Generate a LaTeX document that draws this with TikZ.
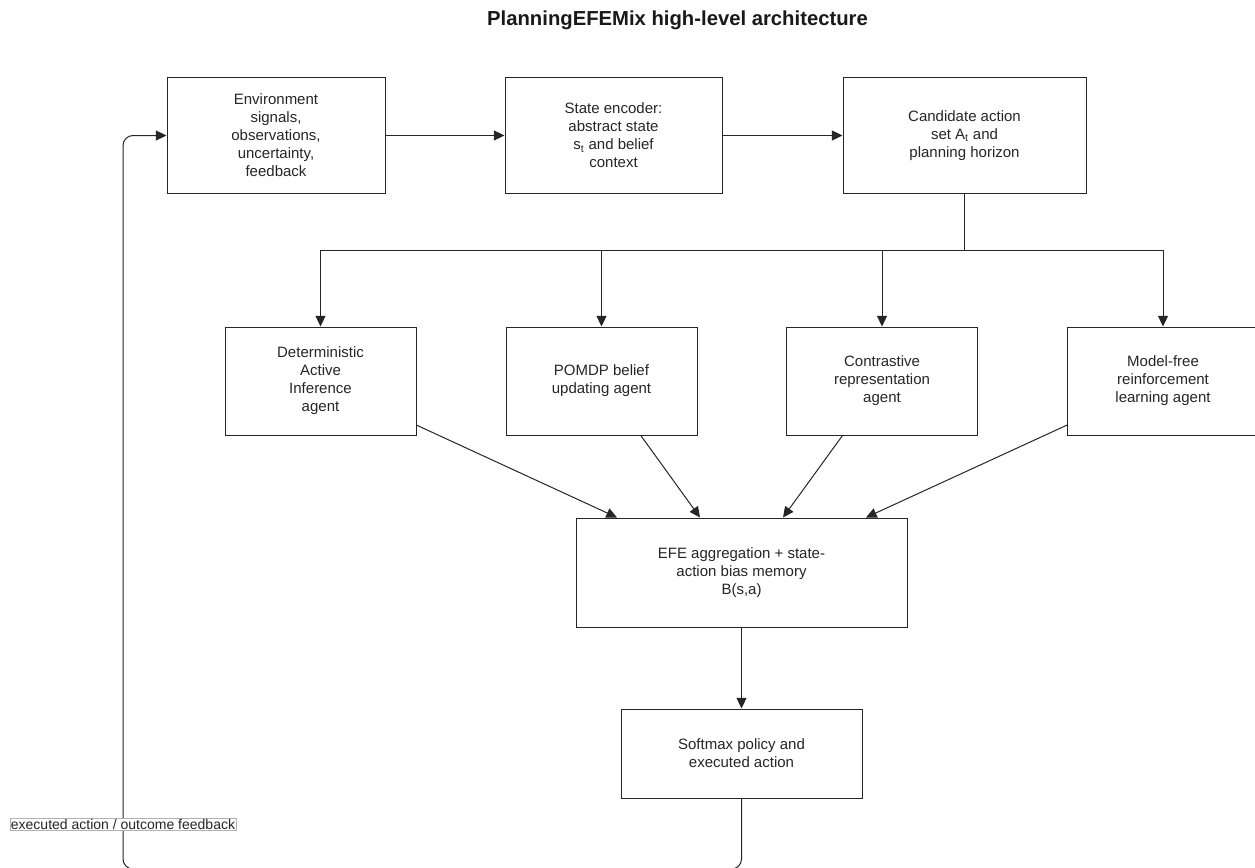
\documentclass[tikz,border=0pt]{standalone}
\usepackage{fontspec}
\setmainfont{Liberation Sans}
\usetikzlibrary{arrows.meta,calc}
\tikzset{
  box/.style={draw=black!85, line width=0.75pt, align=center, inner sep=0pt, text=black!85,
    font=\fontsize{11.25}{13.5}\selectfont},
  agent/.style={box, minimum width=143.25pt, minimum height=81pt},
  arr/.style={-{Triangle[length=8pt,width=7.5pt]}, line width=0.75pt, draw=black!85},
  conn/.style={line width=0.75pt, draw=black!85},
  lbl/.style={draw=black!30, fill=white, inner sep=0.8pt, text=black!85,
    font=\fontsize{10.5}{12}\selectfont},
  ttl/.style={text=black!90, font=\bfseries\fontsize{15.2}{18}\selectfont}
}
\begin{document}
\begin{tikzpicture}[x=0.75pt,y=-0.75pt]
\useasboundingbox (0,0) rectangle (1255,867);
\clip (0,0) rectangle (1255,867);
\fill[white] (0,0) rectangle (1255,867);

\node[ttl] (title) at (677.5,20) {PlanningEFEMix high-level architecture};

\node[box, minimum width=163.5pt, minimum height=86.25pt] (env) at (276,135.5)
  {Environment\\signals,\\observations,\\uncertainty,\\feedback};
\node[box, minimum width=162.75pt, minimum height=86.25pt] (enc) at (613.5,135.5)
  {State encoder:\\abstract state\\s\textsubscript{t} and belief\\context};
\node[box, minimum width=182.25pt, minimum height=86.25pt] (cand) at (964.5,135.5)
  {Candidate action\\set A\textsubscript{t} and\\planning horizon};

\node[agent] (a1) at (320.5,381) {Deterministic\\Active\\Inference\\agent};
\node[agent] (a2) at (601.5,381) {POMDP belief\\updating agent};
\node[agent] (a3) at (882,381) {Contrastive\\representation\\agent};
\node[agent] (a4) at (1163,381) {Model-free\\reinforcement\\learning agent};

\node[box, minimum width=248.25pt, minimum height=81.75pt] (efe) at (741.5,572.5)
  {EFE aggregation + state-\\action bias memory\\B(s,a)};
\node[box, minimum width=180.75pt, minimum height=66.75pt] (soft) at (741.5,753.5)
  {Softmax policy and\\executed action};

\draw[arr] (env) -- (enc);
\draw[arr] (enc) -- (cand);

\coordinate (br) at (964.5,250);
\coordinate (bl) at (a1.north |- br);
\coordinate (brr) at (a4.north |- br);
\draw[conn] (cand.south) -- (br);
\draw[conn] (bl) -- (brr);
\draw[arr] (bl) -- (a1.north);
\draw[arr] (a2.north |- br) -- (a2.north);
\draw[arr] (a3.north |- br) -- (a3.north);
\draw[arr] (brr) -- (a4.north);

\coordinate (p1) at ($(efe.north west)!0.125!(efe.north east)$);
\coordinate (p2) at ($(efe.north west)!0.375!(efe.north east)$);
\coordinate (p3) at ($(efe.north west)!0.625!(efe.north east)$);
\coordinate (p4) at ($(efe.north west)!0.875!(efe.north east)$);
\draw[arr] (a1) -- (p1);
\draw[arr] (a2) -- (p2);
\draw[arr] (a3) -- (p3);
\draw[arr] (a4) -- (p4);

\draw[arr] (efe) -- (soft);

\coordinate (lb) at (123,869);
\draw[arr, rounded corners=7.5pt] (soft.south) |- (lb) |- (env.west);

\node[lbl] (fb) at (123,824.5) {executed action / outcome feedback};
\end{tikzpicture}
\end{document}
